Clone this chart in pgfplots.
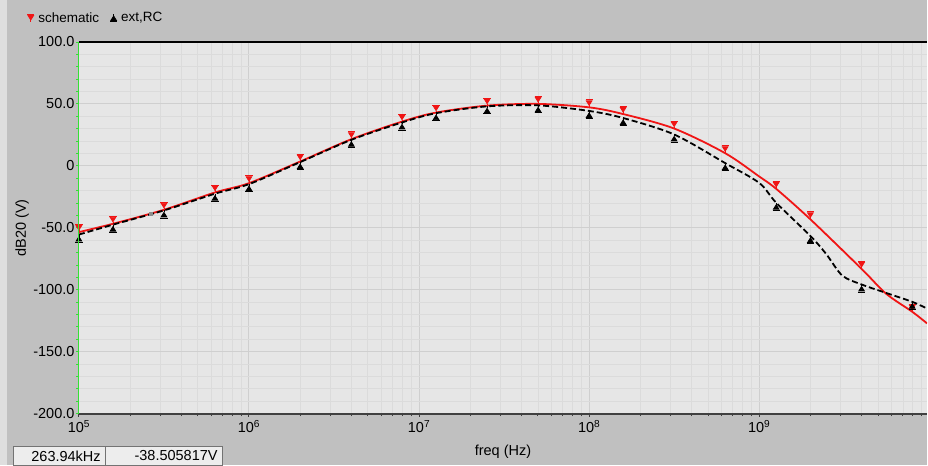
\documentclass[border=0pt]{standalone}
\usepackage{pgfplots}
\pgfplotsset{compat=1.18}
\usepackage{pgfplotstable}
\usepackage{fontspec}
\setmainfont{Liberation Sans}

\definecolor{panel}{HTML}{C0C0C0}
\definecolor{plotbg}{HTML}{E6E6E6}
\definecolor{gridmaj}{HTML}{CFCFCF}
\definecolor{gridmin}{HTML}{DBDBDB}
\definecolor{axgreen}{HTML}{35E035}
\definecolor{schemred}{HTML}{F01515}

% marker of the schematic trace: down triangle sitting above the point
\pgfdeclareplotmark{schem}{%
  \pgfsetlinewidth{0.8pt}%
  \pgfpathmoveto{\pgfqpoint{-3.6pt}{7.5pt}}\pgfpathlineto{\pgfqpoint{3.6pt}{7.5pt}}\pgfusepathqstroke
  \pgfpathmoveto{\pgfqpoint{-2.8pt}{6.5pt}}\pgfpathlineto{\pgfqpoint{2.8pt}{6.5pt}}%
  \pgfpathlineto{\pgfqpoint{0pt}{2pt}}\pgfpathclose\pgfusepathqfillstroke
  \pgfpathmoveto{\pgfqpoint{0pt}{2pt}}\pgfpathlineto{\pgfqpoint{0pt}{0pt}}\pgfusepathqstroke}
% marker of the extracted trace: up triangle hanging below the point
\pgfdeclareplotmark{extrc}{%
  \pgfsetlinewidth{0.8pt}%
  \pgfpathmoveto{\pgfqpoint{-3.6pt}{-7.5pt}}\pgfpathlineto{\pgfqpoint{3.6pt}{-7.5pt}}\pgfusepathqstroke
  \pgfpathmoveto{\pgfqpoint{-2.8pt}{-6.5pt}}\pgfpathlineto{\pgfqpoint{2.8pt}{-6.5pt}}%
  \pgfpathlineto{\pgfqpoint{0pt}{-2pt}}\pgfpathclose\pgfusepathqfillstroke
  \pgfpathmoveto{\pgfqpoint{0pt}{-2pt}}\pgfpathlineto{\pgfqpoint{0pt}{0pt}}\pgfusepathqstroke}

% legend glyphs: the marker only, centred on the text line
\pgfplotsset{
  schemleg/.style={legend image code/.code={\draw[##1, solid] plot coordinates {(4pt,-4pt)};}},
  extrcleg/.style={legend image code/.code={\draw[##1, solid] plot coordinates {(4pt,4pt)};}},
}

% schematic simulation, dB20(V) versus frequency
\pgfplotstableread{
f        db
1e5      -53.5
1.585e5  -46.8
3.162e5  -35.5
6.31e5   -21.5
1e6      -14.0
2e6        3.5
4e6       21.5
7.94e6    35.7
1.259e7   43.0
2.512e7   48.6
5.012e7   50.0
1e8       47.2
1.585e8   41.8
3.162e8   30.1
6.31e8    10.2
1e9       -8.6
1.259e9  -18.6
2e9      -43.2
4e9      -83.2
5.57e9  -103.2
7.94e9  -117.8
9.7e9   -127.2
}\schematic

% extracted RC netlist
\pgfplotstableread{
f        db
1e5      -55.5
1.585e5  -47.5
3.162e5  -36.0
6.31e5   -22.5
1e6      -14.8
2e6        3.0
4e6       21.0
7.94e6    35.0
1.259e7   42.5
2.512e7   48.0
5.012e7   48.8
1e8       44.3
1.585e8   38.6
3.162e8   25.3
6.31e8     2.2
1e9      -13.8
1.259e9  -29.8
2e9      -56.6
2.47e9   -71.0
3.08e9   -88.6
4e9      -95.8
5.57e9  -102.6
7.94e9  -109.8
9.7e9   -115.2
}\extrc

\begin{document}
\begin{tikzpicture}[x=1pt,y=1pt]
\fill[panel] (0,0) rectangle (928,466);
\fill[black!13] (0,0) rectangle (7,466);
\begin{axis}[
  at={(79pt,52pt)}, anchor=south west,
  scale only axis, width=849pt, height=372pt,
  xmode=log, xmin=1e5, xmax=9.7e9, ymin=-200, ymax=100,
  axis background/.style={fill=plotbg},
  axis line style={draw=none},
  clip mode=individual,
  grid=both,
  major grid style={gridmaj, line width=1pt},
  minor grid style={gridmin, line width=0.8pt},
  xtick={1e5,1e6,1e7,1e8,1e9},
  xticklabels={10\textsuperscript{5},10\textsuperscript{6},10\textsuperscript{7},10\textsuperscript{8},10\textsuperscript{9}},
  minor xtick={2e5,3e5,4e5,5e5,6e5,7e5,8e5,9e5,
               2e6,3e6,4e6,5e6,6e6,7e6,8e6,9e6,
               2e7,3e7,4e7,5e7,6e7,7e7,8e7,9e7,
               2e8,3e8,4e8,5e8,6e8,7e8,8e8,9e8,
               2e9,3e9,4e9,5e9,6e9,7e9,8e9,9e9},
  ytick={-200,-150,-100,-50,0,50,100},
  yticklabels={-200.0,-150.0,-100.0,-50.0,0,50.0,100.0},
  minor y tick num=4,
  xtick pos=bottom, ytick pos=left,
  tick align=outside,
  major tick length=3pt, minor tick length=2.5pt,
  xtick style={black!75, line width=1pt},
  ytick style={axgreen, line width=0.8pt},
  tick label style={font=\fontsize{14.5}{16}\selectfont},
  yticklabel style={xshift=2pt},
  xlabel={freq (Hz)}, ylabel={dB20 (V)},
  label style={font=\fontsize{14.5}{16}\selectfont},
  xlabel style={at={(axis description cs:0.5,0)}, anchor=center, yshift=-38pt},
  ylabel style={at={(axis description cs:-0.0671,0.5)}, anchor=center},
  legend style={at={(axis description cs:0,1)}, anchor=west, xshift=-52pt, yshift=24pt,
    draw=none, fill=none, inner sep=0pt, font=\fontsize{13.5}{15}\selectfont,
    /tikz/every odd column/.append style={column sep=2pt},
    /tikz/every even column/.append style={column sep=9pt}},
  legend columns=-1,
]
\addplot[schemred, line width=1.8pt, smooth, tension=0.5,
  mark=schem, mark options={solid, fill=schemred},
  mark indices={1,2,3,4,5,6,7,8,9,10,11,12,13,14,15,17,18,19,21}, schemleg]
  table[x=f, y=db] {\schematic};
\addlegendentry{schematic}
\addplot[black, line width=1.8pt, dash pattern=on 6pt off 3pt, smooth, tension=0.5,
  mark=extrc, mark options={solid, fill=black},
  mark indices={1,2,3,4,5,6,7,8,9,10,11,12,13,14,15,17,18,21,23}, extrcleg]
  table[x=f, y=db] {\extrc};
\addlegendentry{ext,RC}
% cursor position
\addplot[only marks, mark=square*, mark size=1.6pt, black!45, forget plot]
  coordinates {(263940,-38.505817)};
% axis frame
\draw[axgreen, line width=1pt] (rel axis cs:0,0) -- (rel axis cs:0,1);
\draw[black!75, line width=2pt] (rel axis cs:0,0) -- (rel axis cs:1,0);
\draw[black, line width=2pt] (rel axis cs:0,1) -- (rel axis cs:1,1);
\end{axis}
% cursor readout
\draw[fill=black!7, draw=black!55] (13,0) rectangle (105,19);
\draw[fill=black!7, draw=black!55] (105,0) rectangle (222,19);
\node[anchor=east, inner sep=0pt, font=\fontsize{14.5}{16}\selectfont] at (101,9.5) {263.94kHz};
\node[anchor=east, inner sep=0pt, font=\fontsize{14.5}{16}\selectfont] at (218,9.5) {-38.505817V};
\end{tikzpicture}
\end{document}
